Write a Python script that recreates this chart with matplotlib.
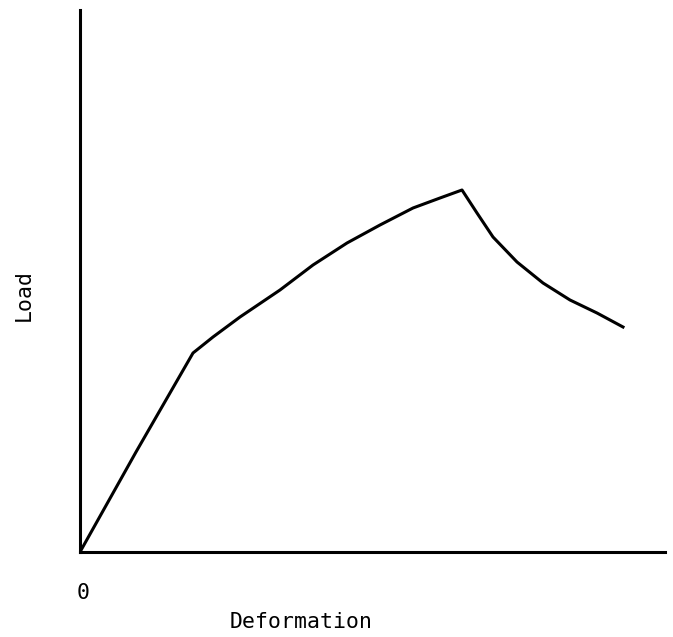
import matplotlib
matplotlib.use("Agg")
import matplotlib.pyplot as plt

# Data (arbitrary units)
deformation = [0, 56, 113, 133, 160, 200, 233, 267, 300, 333, 360, 382,
               397, 413, 437, 463, 490, 517, 543]
load = [0, 100, 199, 215, 235, 262, 287, 309, 327, 344, 354, 362,
        339, 315, 290, 269, 252, 239, 225]

fig = plt.figure(figsize=(6.73, 6.37), dpi=100)
ax = fig.add_axes([80/673, 85/637, 585/673, 542/637])
ax.plot(deformation, load, color="black", lw=2.2, solid_joinstyle="round")
ax.set_xlim(0, 585)
ax.set_ylim(0, 542)
for s in ["top", "right"]:
    ax.spines[s].set_visible(False)
for s in ["left", "bottom"]:
    ax.spines[s].set_linewidth(2.2)
ax.set_xticks([])
ax.set_yticks([])

font = dict(family="DejaVu Sans Mono", fontsize=15.5)
fig.text(301/673, 1 - 622/637, "Deformation", ha="center", va="center", **font)
fig.text(83/673, 1 - 593/637, "0", ha="center", va="center", **font)
fig.text(24/673, 1 - 295/637, "Load", ha="center", va="center", rotation=90, **font)

fig.savefig("out.png", dpi=100)
